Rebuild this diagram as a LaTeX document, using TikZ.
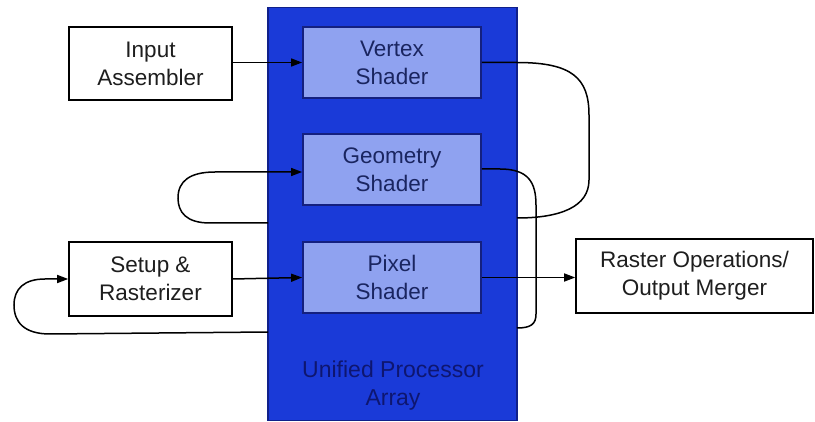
\documentclass[tikz,border=0pt]{standalone}
\usepackage{fontspec}
\setmainfont{Liberation Sans}
\usetikzlibrary{arrows.meta}
\definecolor{procblue}{HTML}{1A3AD8}
\definecolor{procedge}{HTML}{10208A}
\definecolor{shadefill}{HTML}{8FA2F0}
\definecolor{shadeedge}{HTML}{14207F}
\definecolor{shadetext}{HTML}{1A2560}
\definecolor{labeltext}{HTML}{0E1670}
\definecolor{boxtext}{HTML}{1E1E1E}
\tikzset{
  whitebox/.style={draw=black, line width=1.6pt, fill=white, text=boxtext, align=center,
    inner sep=0pt, font=\fontsize{22.5}{28}\selectfont},
  shaderbox/.style={draw=shadeedge, line width=1.8pt, fill=shadefill, text=shadetext, align=center,
    inner sep=0pt, minimum width=178pt, minimum height=71pt, font=\fontsize{22.5}{28}\selectfont},
  conn/.style={draw=black, line width=1.5pt},
  arr/.style={conn, -{Stealth[length=11pt,width=8pt,inset=0pt]}},
}
\begin{document}
\begin{tikzpicture}[x=1pt,y=-1pt]
\useasboundingbox (0,0) rectangle (815,422);
% unified processor array
\node[draw=procedge, line width=1.5pt, fill=procblue, minimum width=249pt, minimum height=413pt, inner sep=0pt] (proc) at (392.5,214) {};
\node[text=labeltext, align=center, font=\fontsize{23}{28}\selectfont] (plabel) at (393,386) {Unified Processor\\Array};
% shaders
\node[shaderbox] (vs) at (392,62.5) {Vertex\\Shader};
\node[shaderbox] (gs) at (392,169.5) {Geometry\\Shader};
\node[shaderbox] (ps) at (392,277.5) {Pixel\\Shader};
% fixed-function boxes
\node[whitebox, minimum width=163pt, minimum height=73pt] (ia) at (150.5,63.5) {Input\\Assembler};
\node[whitebox, minimum width=163pt, minimum height=74pt] (sr) at (150.5,279) {Setup \&\\Rasterizer};
\node[whitebox, minimum width=237pt, minimum height=74pt] (ro) at (694.5,276) {Raster Operations/\\Output Merger};
% coordinates where loops pass behind the array
\coordinate (r1) at (517,218);
\coordinate (l1) at (268,223);
\coordinate (r2) at (517,328);
\coordinate (l2) at (268,332);
% straight arrows
\draw[arr] (ia.east |- vs.west) -- (vs.west);
\draw[arr] (sr.east) -- (ps.west);
\draw[arr] (ps.east) -- (ro.west |- ps.east);
% loop vertex -> geometry
\draw[conn] (vs.east) -- (517,62.5) .. controls (572,62.5) and (589,78) .. (589,115)
  -- (589,180) .. controls (589,207) and (560,218) .. (r1);
\draw[arr] (l1) -- (210,223) .. controls (186,223) and (178,212) .. (178,198)
  .. controls (178,181) and (190,172) .. (215,172) -- (gs.west |- 0,172);
% loop geometry -> setup
\draw[conn] (gs.east |- 0,169) -- (500,169) .. controls (528,169) and (536,182) .. (536,205)
  -- (536,314) .. controls (536,324) and (531,328) .. (r2);
\draw[arr] (l2) -- (50,334) .. controls (24,334) and (14,322) .. (14,305)
  .. controls (14,289) and (24,279) .. (45,279) -- (sr.west);
\end{tikzpicture}
\end{document}
